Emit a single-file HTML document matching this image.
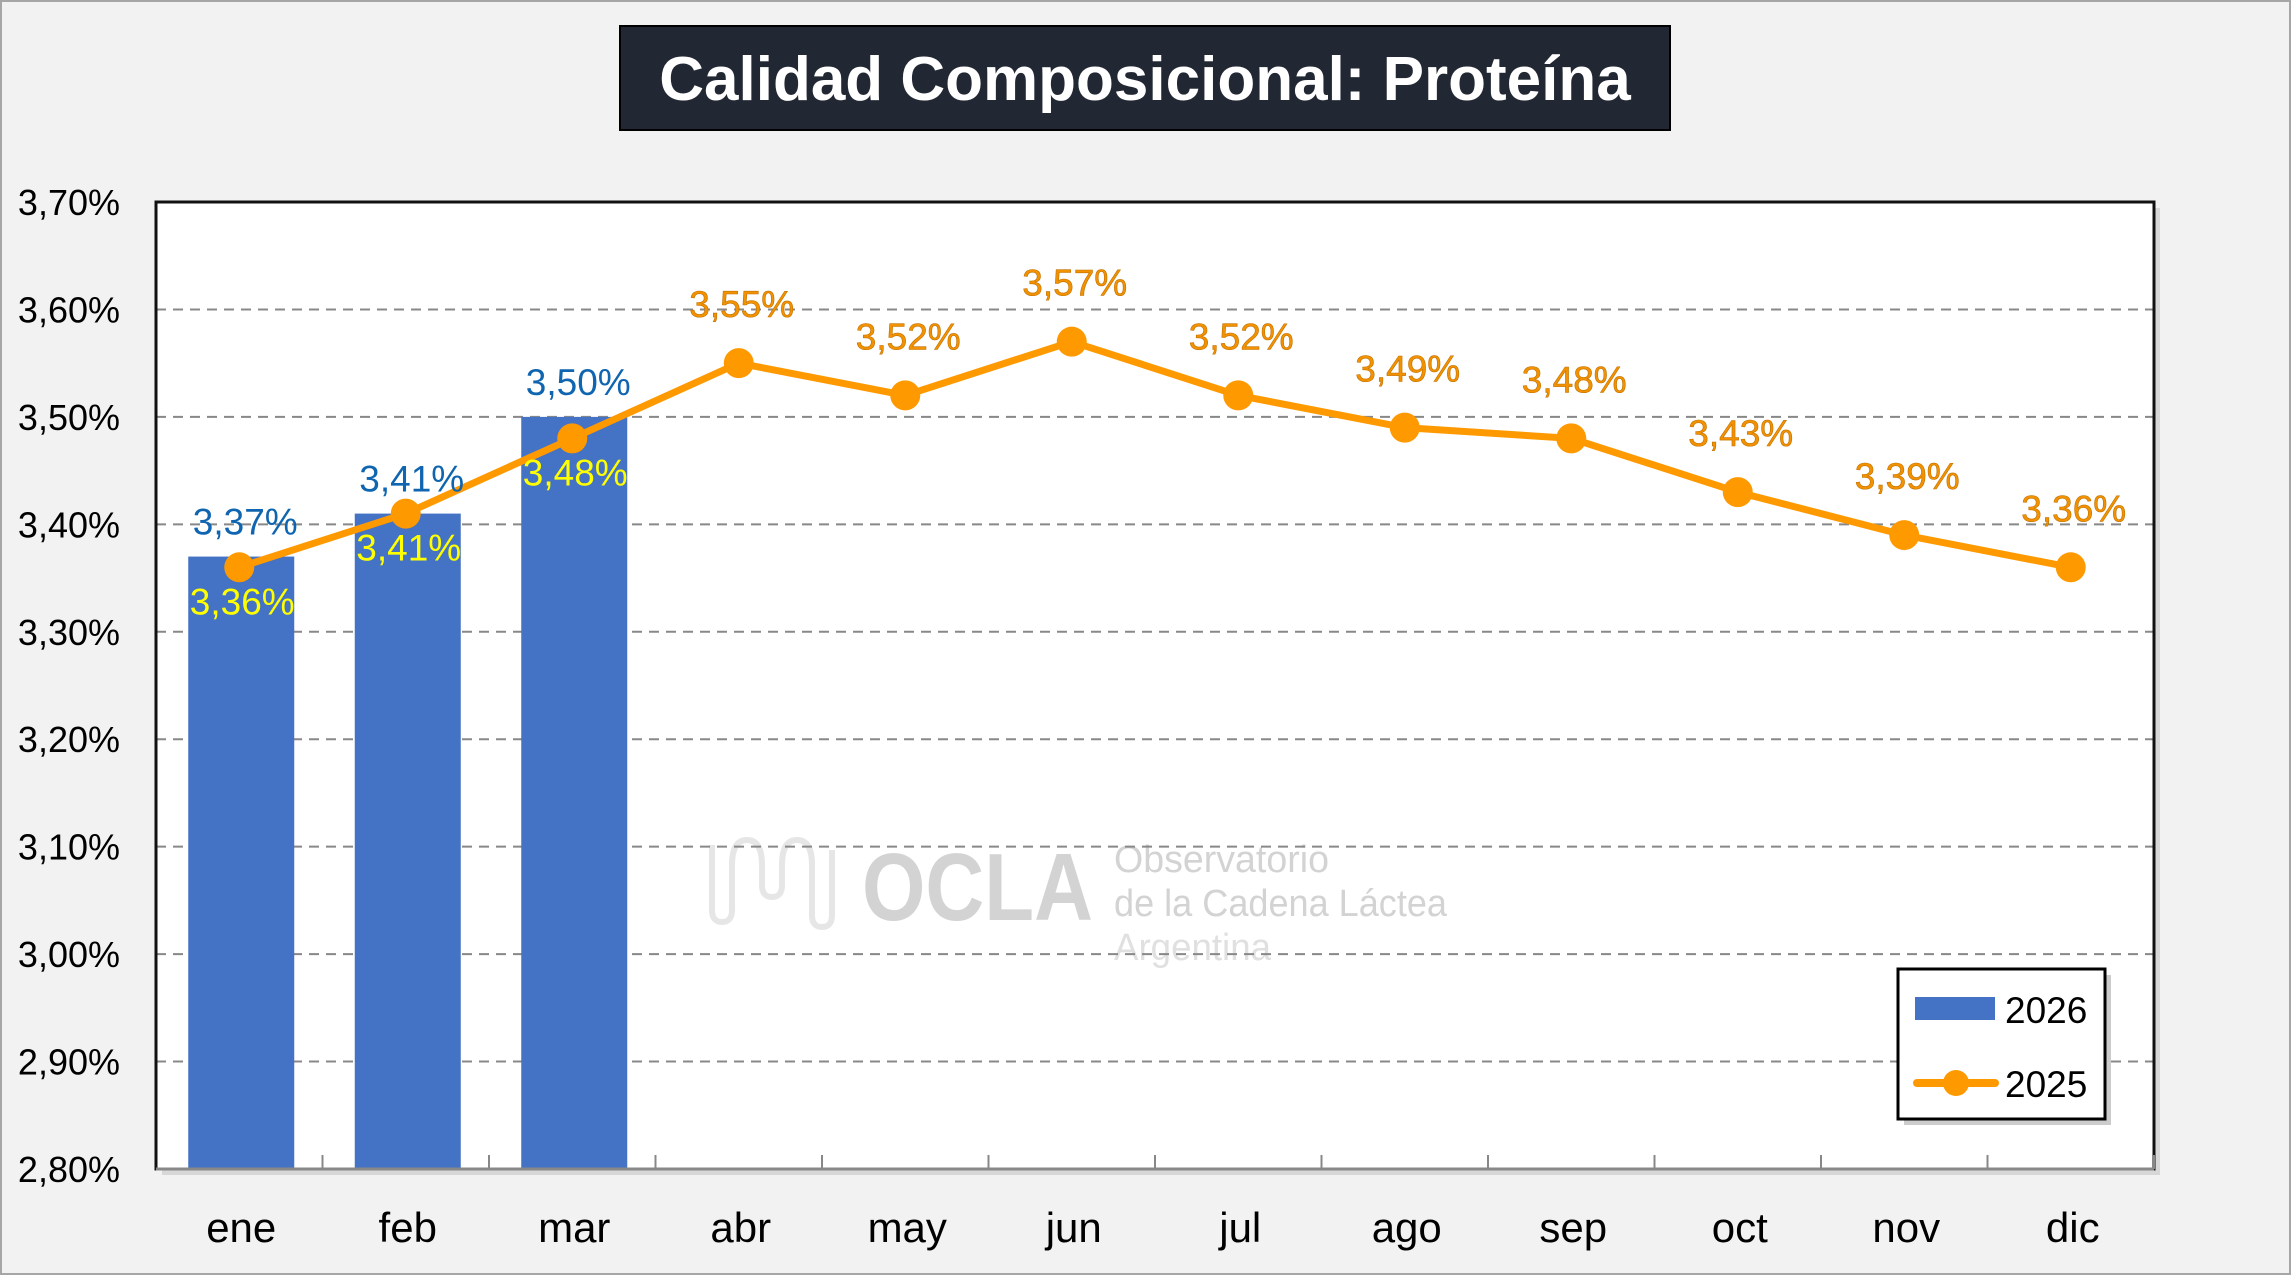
<!DOCTYPE html>
<html><head><meta charset="utf-8"><style>
html,body{margin:0;padding:0;background:#f2f2f2;}
svg{display:block;font-family:"Liberation Sans",sans-serif;}
</style></head><body>
<svg id="chart" width="2291" height="1275" viewBox="0 0 2291 1275">
<rect x="1" y="1" width="2289" height="1273" fill="#f2f2f2" stroke="#a6a6a6" stroke-width="2"/>
<g>
<rect x="620" y="26" width="1050" height="104" fill="#222833" stroke="#000" stroke-width="2"/>
<text x="1145" y="100" text-anchor="middle" fill="#fff" font-size="62" font-weight="bold">Calidad Composicional: Proteína</text>
</g>
<rect x="162" y="208" width="1998" height="967" fill="#bbb" opacity="0.5"/>
<rect x="156" y="202" width="1998" height="967" fill="#fff"/>
<g fill="#d3d3d3">
<text x="862" y="920" font-size="96" font-weight="bold" textLength="231" lengthAdjust="spacingAndGlyphs">OCLA</text>
<text x="1114" y="872" font-size="38" textLength="215" lengthAdjust="spacingAndGlyphs">Observatorio</text>
<text x="1114" y="916" font-size="38" textLength="333" lengthAdjust="spacingAndGlyphs">de la Cadena Láctea</text>
<text x="1114" y="960" font-size="38" fill="#e0e0e0" textLength="157" lengthAdjust="spacingAndGlyphs">Argentina</text>
<path d="M712 845 v65 q0 12 10 12 q10 0 10 -12 v-45 q0-25 15-25 q15 0 15 25 v20 q0 12 10 12 q10 0 10-12 v-20 q0-25 15-25 q15 0 15 25 v50 q0 12 10 12 q10 0 10-12 v-65" fill="none" stroke="#e6e6e6" stroke-width="6"/>
</g>
<g id="grid"></g>
<g id="bars"></g>
<g id="line"></g>
<g id="labels"></g>
<rect x="156" y="202" width="1998" height="967" fill="none" stroke="#111" stroke-width="3"/>
<line x1="156" y1="1169" x2="2154" y2="1169" stroke="#888" stroke-width="3"/>
<g id="axes"></g>
<g>
<rect x="1904" y="975" width="207" height="150" fill="#999" opacity="0.5"/>
<rect x="1898" y="969" width="207" height="150" fill="#fff" stroke="#000" stroke-width="3"/>
<rect x="1915" y="997" width="80" height="23" fill="#4472c4"/>
<text x="2005" y="1023" font-size="37" fill="#000">2026</text>
<line x1="1917" y1="1083" x2="1995" y2="1083" stroke="#ff9900" stroke-width="8" stroke-linecap="round"/>
<circle cx="1956" cy="1083" r="13" fill="#ff9900"/>
<text x="2005" y="1097" font-size="37" fill="#000">2025</text>
</g>
</svg>
<script>
const categories=["ene","feb","mar","abr","may","jun","jul","ago","sep","oct","nov","dic"];
const values2026=[3.37,3.41,3.50];
const values2025=[3.36,3.41,3.48,3.55,3.52,3.57,3.52,3.49,3.48,3.43,3.39,3.36];
const yTicks=[2.80,2.90,3.00,3.10,3.20,3.30,3.40,3.50,3.60,3.70];
const NS="http://www.w3.org/2000/svg";
const L=156,R=2154,T=202,B=1169,yMin=2.8,yMax=3.7;
const band=(R-L)/categories.length;
const x=i=>L+band*(i+0.5);
const y=v=>B-(v-yMin)/(yMax-yMin)*(B-T);
const fmt=v=>v.toFixed(2).replace(".",",")+"%";
function mk(tag,attrs,parent,txt){const e=document.createElementNS(NS,tag);for(const k in attrs)e.setAttribute(k,attrs[k]);if(txt!==undefined)e.textContent=txt;document.getElementById(parent).appendChild(e);return e;}
yTicks.forEach((t,i)=>{
  if(i>0&&i<yTicks.length-1){const g=mk("line",{x1:L,x2:R,y1:y(t),y2:y(t),stroke:"#888","stroke-width":2,"stroke-dasharray":"10,7"},"grid");
  
  }
  const tl=mk("text",{x:120,y:y(t)+13,"text-anchor":"end","font-size":36,fill:"#000"},"axes",fmt(t));
  
  
});
categories.forEach((c,i)=>{
  const tk=mk("line",{x1:L+band*(i+1),x2:L+band*(i+1),y1:B,y2:B-14,stroke:"#888","stroke-width":2},"axes");
  
  
  const lb=mk("text",{x:x(i)+2,y:1242,"text-anchor":"middle","font-size":42,fill:"#000"},"axes",c);
  
  
});
const bw=106;
values2026.forEach((v,i)=>{
  const b=mk("rect",{x:x(i)-bw/2+2,y:y(v),width:bw,height:B-y(v),fill:"#4472c4"},"bars");
  
  
  const t=mk("text",{x:x(i)+6,y:y(v)-22,"text-anchor":"middle","font-size":37,fill:"#0f65b0"},"labels",fmt(v));
  
  
});
const pts=values2025.map((v,i)=>x(i)+","+y(v)).join(" ");
const pl=mk("polyline",{points:pts,fill:"none",stroke:"#ff9900","stroke-width":7,"stroke-linejoin":"round"},"line");


values2025.forEach((v,i)=>{
  const c=mk("circle",{cx:x(i),cy:y(v),r:15,fill:"#ff9900"},"line");
  
  
  const below=i<values2026.length;
  const t=mk("text",{x:x(i)+3,y:below?y(v)+47:y(v)-46,"text-anchor":"middle","font-size":37,fill:below?"#ffff00":"#f39200",stroke:below?"none":"#c07000","stroke-width":0.6},"labels",fmt(v));
  
  
});
</script>
</body></html>
